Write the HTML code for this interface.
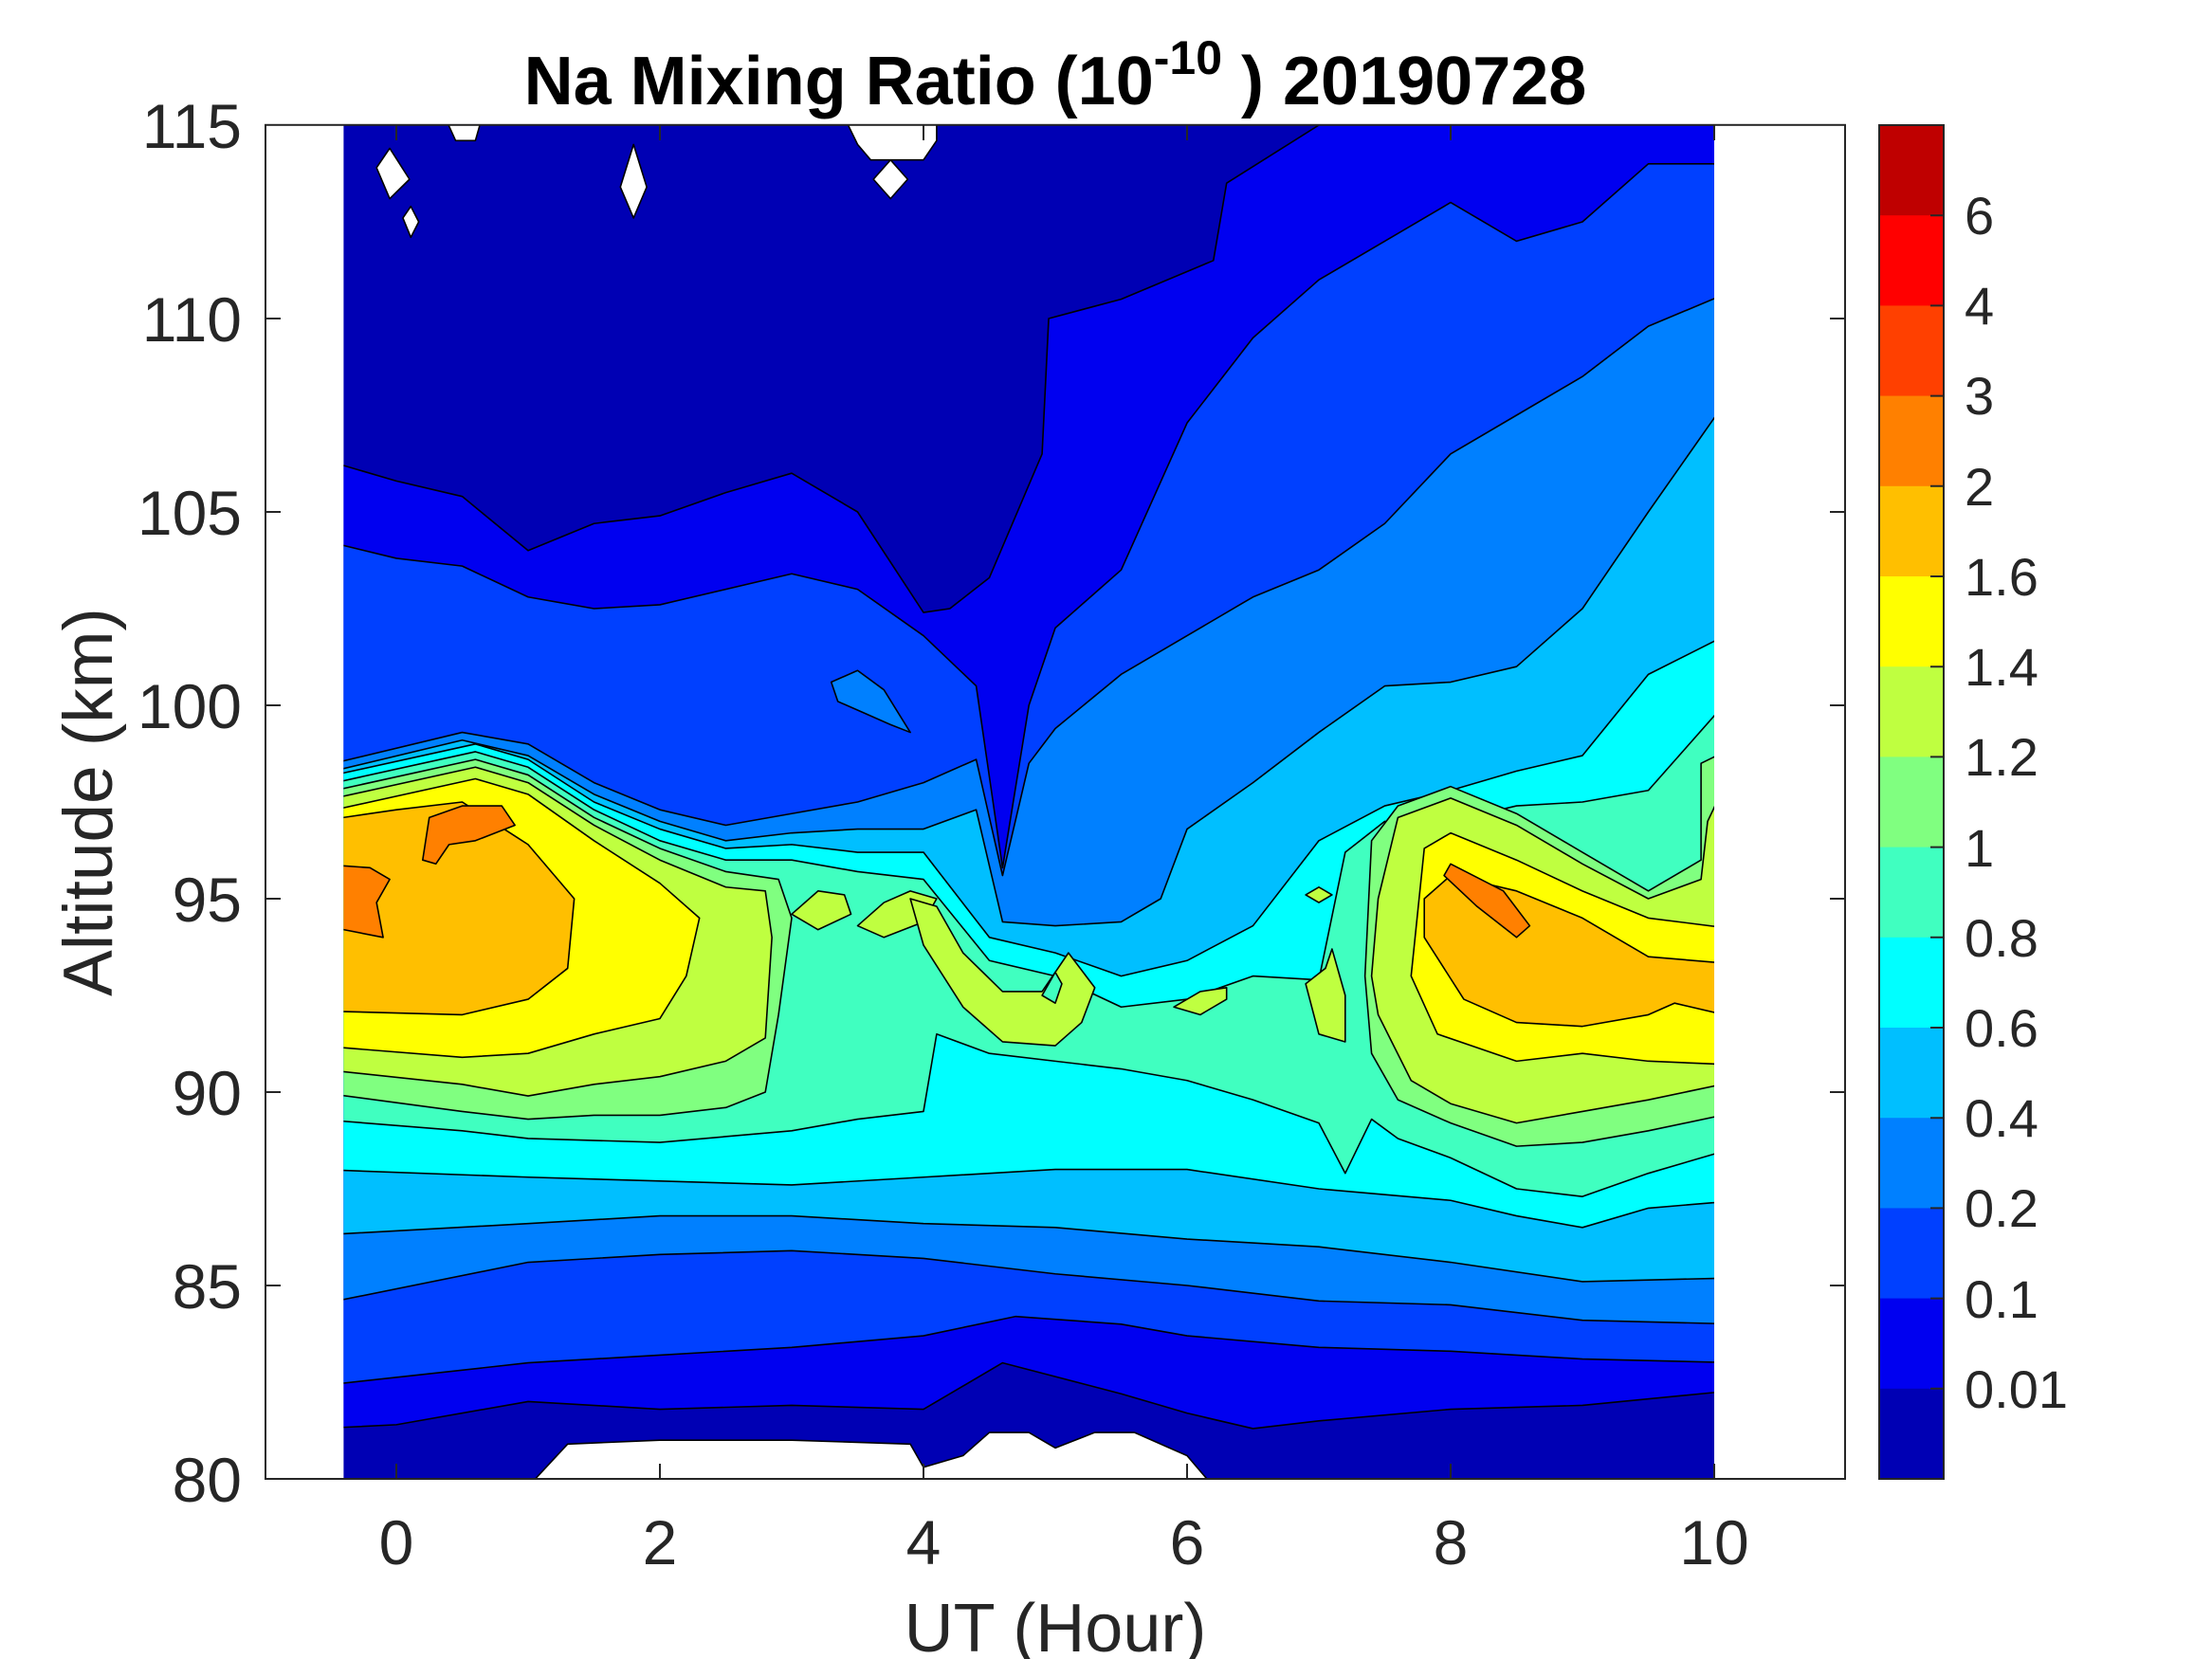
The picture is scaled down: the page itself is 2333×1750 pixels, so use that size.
<!DOCTYPE html>
<html><head><meta charset="utf-8"><style>
html,body{margin:0;padding:0;background:#fff}
svg{display:block}
text{font-family:"Liberation Sans",Arial,sans-serif;fill:#262626}
</style></head><body>
<svg width="2333" height="1750" viewBox="0 0 2333 1750" xmlns="http://www.w3.org/2000/svg">
<defs>
<clipPath id="dc"><rect x="362.4" y="131.8" width="1445.6" height="1428.2"/></clipPath>
</defs>
<g clip-path="url(#dc)">
<g transform="translate(418,4824) scale(139,-40.8)" stroke="#000" stroke-width="1.6" stroke-linejoin="round">
<rect x="-0.6" y="79" width="11" height="37" fill="#0000b4" stroke="none"/>
<!-- >=0.01 -->
<polygon vector-effect="non-scaling-stroke" fill="#0000f0" points="-0.6,81.3 0,81.4 1,82 2,81.8 3,81.9 4,81.8 4.6,83 5.5,82.2 6,81.7 6.5,81.3 7,81.5 8,81.8 9,81.9 10.2,82.3 10.2,116 7.0,116 7.0,115 6.3,113.5 6.2,111.5 5.5,110.5 4.95,110 4.9,106.5 4.5,103.3 4.2,102.5 4,102.4 3.5,105 3,106 2.5,105.5 2,104.9 1.5,104.7 1,104 0.5,105.4 0,105.8 -0.6,106.4"/>
<!-- >=0.1 -->
<polygon vector-effect="non-scaling-stroke" fill="#0040ff" points="-0.6,82.4 1,83 2,83.2 3,83.4 4,83.7 4.7,84.2 5.5,84 6,83.7 7,83.4 8,83.3 9,83.1 10.2,83 10.2,114 9.5,114 9,112.5 8.5,112 8,113 7.5,112 7,111 6.5,109.5 6,107.3 5.5,103.5 5,102 4.8,100 4.6,95.8 4.4,100.5 4,101.8 3.5,103 3,103.4 2,102.6 1.5,102.5 1,102.8 0.5,103.6 0,103.8 -0.6,104.3"/>
<!-- >=0.2 -->
<polygon vector-effect="non-scaling-stroke" fill="#0080ff" points="-0.6,84.5 1,85.6 2,85.8 3,85.9 4,85.7 5,85.3 6,85 7,84.6 8,84.5 9,84.1 10.2,84 10.2,110.8 9.5,109.8 9,108.5 8.5,107.5 8,106.5 7.5,104.7 7,103.5 6.5,102.8 6,101.8 5.5,100.8 5,99.4 4.8,98.5 4.6,95.6 4.4,98.6 4,98 3.5,97.5 3,97.2 2.5,96.9 2,97.3 1.5,98 1,99 0.5,99.3 -0.6,98.4"/>
<polygon vector-effect="non-scaling-stroke" fill="#0080ff" points="3.3,100.6 3.5,100.9 3.7,100.4 3.9,99.3 3.75,99.5 3.55,99.8 3.35,100.1"/>
<!-- >=0.4 -->
<polygon vector-effect="non-scaling-stroke" fill="#00bfff" points="-0.6,86.3 1,86.6 2,86.8 3,86.8 4,86.6 5,86.5 6,86.2 7,86 8,85.6 9,85.1 10.2,85.2 10.2,108.4 9.5,105 9,102.5 8.5,101 8,100.6 7.5,100.5 7,99.3 6.5,98 6,96.8 5.8,95 5.5,94.4 5,94.3 4.6,94.4 4.4,97.3 4,96.8 3.5,96.8 3,96.7 2.5,96.5 2,97 1.5,97.7 1,98.7 0.5,99.1 -0.6,98.2"/>
<!-- >=0.6 -->
<polygon vector-effect="non-scaling-stroke" fill="#00ffff" points="-0.6,88 1,87.8 2,87.7 3,87.6 4,87.8 5,88 6,88 7,87.5 8,87.2 8.5,86.8 9,86.5 9.5,87 10.2,87.2 10.2,102 9.5,100.8 9,98.7 8.5,98.3 8,97.8 7.5,97.4 7,96.5 6.5,94.3 6,93.4 5.5,93 5,93.6 4.5,94 4,96.2 3.5,96.2 3,96.4 2.5,96.3 2,96.8 1.5,97.5 1,98.6 0.6,99 -0.6,98.1"/>
<!-- >=0.8 -->
<polygon vector-effect="non-scaling-stroke" fill="#40ffc0" points="-0.6,89.3 0.5,89 1,88.8 2,88.7 3,89 3.5,89.3 4,89.5 4.1,91.5 4.5,91 5,90.8 5.5,90.6 6,90.3 6.5,89.8 7,89.2 7.2,87.9 7.4,89.3 7.6,88.8 8,88.3 8.5,87.5 9,87.3 9.5,87.9 10.2,88.6 10.2,100.5 9.5,97.8 9,97.5 8.5,97.4 8,97 7.5,97 7.2,96.2 7,92.9 6.5,93 6,92.4 5.5,92.2 5,93 4.5,93.4 4,95.5 3.5,95.7 3,96 2.5,96 2,96.5 1.5,97.3 1,98.4 0.6,98.8 -0.6,97.9"/>
<!-- left blob -->
<polygon vector-effect="non-scaling-stroke" fill="#80ff80" points="-0.6,90 0.5,89.5 1,89.3 1.5,89.4 2,89.4 2.5,89.6 2.8,90 2.9,92 3,94.5 2.9,95.5 2.5,95.7 2,96.3 1.5,97.1 1,98.2 0.6,98.6 -0.6,97.7"/>
<polygon vector-effect="non-scaling-stroke" fill="#bfff40" points="-0.6,90.6 0.5,90.2 1,89.9 1.5,90.2 2,90.4 2.5,90.8 2.8,91.4 2.85,94 2.8,95.2 2.5,95.3 2,96 1.5,96.9 1,98 0.6,98.4 -0.6,97.5"/>
<polygon vector-effect="non-scaling-stroke" fill="#ffff00" points="-0.6,91.2 0.5,90.9 1,91 1.5,91.5 2,91.9 2.2,93 2.3,94.5 2,95.4 1.5,96.5 1,97.7 0.6,98.1 -0.6,97.2"/>
<polygon vector-effect="non-scaling-stroke" fill="#ffbf00" points="-0.6,92.1 0.5,92 1,92.4 1.3,93.2 1.35,95 1,96.4 0.5,97.5 0,97.3 -0.6,97"/>
<polygon vector-effect="non-scaling-stroke" fill="#ff8000" points="0.2,96 0.25,97.1 0.5,97.4 0.8,97.4 0.9,96.9 0.6,96.5 0.4,96.4 0.3,95.9"/>
<polygon vector-effect="non-scaling-stroke" fill="#ff8000" points="-0.6,95.9 -0.2,95.8 -0.05,95.5 -0.15,94.9 -0.1,94 -0.4,94.2 -0.6,94.3"/>
<!-- middle blobs -->
<polygon vector-effect="non-scaling-stroke" fill="#bfff40" points="3.0,94.6 3.2,95.2 3.4,95.1 3.45,94.6 3.2,94.2"/>
<polygon vector-effect="non-scaling-stroke" fill="#bfff40" points="3.5,94.3 3.7,94.9 3.9,95.2 4.1,95 4.0,94.4 3.7,94.0"/>
<polygon vector-effect="non-scaling-stroke" fill="#bfff40" points="3.9,95.0 4.1,94.8 4.3,93.6 4.6,92.6 4.9,92.6 5.1,93.6 5.3,92.7 5.2,91.8 5.0,91.2 4.6,91.3 4.3,92.2 4.0,93.8"/>
<polygon vector-effect="non-scaling-stroke" fill="#40ffc0" points="4.9,92.5 5.0,93.1 5.05,92.8 5.0,92.3"/>
<polygon vector-effect="non-scaling-stroke" fill="#bfff40" points="5.9,92.2 6.1,92.6 6.3,92.7 6.3,92.4 6.1,92"/>
<polygon vector-effect="non-scaling-stroke" fill="#bfff40" points="6.9,92.8 7.0,91.5 7.2,91.3 7.2,92.5 7.1,93.7 7.05,93.2"/>
<polygon vector-effect="non-scaling-stroke" fill="#bfff40" points="6.9,95.1 7.0,95.3 7.1,95.1 7.0,94.9"/>
<!-- right blob -->
<polygon vector-effect="non-scaling-stroke" fill="#80ff80" points="7.35,93 7.4,91 7.6,89.8 8,89.2 8.5,88.6 9,88.7 9.5,89 10.2,89.5 10.2,99 9.9,98.5 9.9,96 9.5,95.2 9,96.2 8.5,97.2 8,97.9 7.6,97.4 7.4,96.5"/>
<polygon vector-effect="non-scaling-stroke" fill="#bfff40" points="7.4,93 7.45,92 7.7,90.3 8,89.7 8.5,89.2 9,89.5 9.5,89.8 10.2,90.3 10.2,98.8 9.95,97 9.9,95.5 9.5,95 9,95.9 8.5,96.9 8,97.6 7.6,97.1 7.45,95"/>
<polygon vector-effect="non-scaling-stroke" fill="#ffff00" points="7.7,93 7.9,91.5 8.5,90.8 9,91 9.5,90.8 10.2,90.7 10.2,94.2 9.5,94.5 9,95.2 8.5,96 8,96.7 7.8,96.3"/>
<polygon vector-effect="non-scaling-stroke" fill="#ffbf00" points="7.8,94 8.1,92.4 8.5,91.8 9,91.7 9.5,92 9.7,92.3 10.2,91.9 10.2,93.3 9.5,93.5 9,94.5 8.5,95.2 8,95.6 7.8,95"/>
<polygon vector-effect="non-scaling-stroke" fill="#ff8000" points="7.95,95.6 8.2,94.8 8.5,94.0 8.6,94.3 8.4,95.2 8.0,95.9"/>
<!-- white bottom -->
<polygon vector-effect="non-scaling-stroke" fill="#ffffff" points="1.0,79.8 1.3,80.9 2,81.0 3,81.0 3.9,80.9 4.0,80.3 4.3,80.6 4.5,81.2 4.8,81.2 5.0,80.8 5.3,81.2 5.6,81.2 6.0,80.6 6.2,79.8"/>
<!-- white top -->
<polygon vector-effect="non-scaling-stroke" fill="#ffffff" points="-0.15,113.9 -0.05,114.4 0.1,113.6 -0.05,113.1"/>
<polygon vector-effect="non-scaling-stroke" fill="#ffffff" points="0.05,112.6 0.11,112.9 0.17,112.5 0.11,112.1"/>
<polygon vector-effect="non-scaling-stroke" fill="#ffffff" points="0.37,115.2 0.45,114.6 0.6,114.6 0.65,115.2"/>
<polygon vector-effect="non-scaling-stroke" fill="#ffffff" points="1.7,113.4 1.8,114.5 1.9,113.4 1.8,112.6"/>
<polygon vector-effect="non-scaling-stroke" fill="#ffffff" points="3.4,115.2 3.5,114.5 3.6,114.1 4.0,114.1 4.1,114.6 4.1,115.2"/>
<polygon vector-effect="non-scaling-stroke" fill="#ffffff" points="3.62,113.6 3.75,114.1 3.88,113.6 3.75,113.1"/>
</g>
</g>
<!-- axes -->
<g stroke="#262626" stroke-width="2" fill="none">
<rect x="280" y="131.8" width="1666" height="1428.2"/>
<path d="M418,1560v-16M696,1560v-16M974,1560v-16M1252,1560v-16M1530,1560v-16M1808,1560v-16
M418,132v16M696,132v16M974,132v16M1252,132v16M1530,132v16M1808,132v16
M280,1560h16M280,1356h16M280,1152h16M280,948h16M280,744h16M280,540h16M280,336h16
M1946,1560h-16M1946,1356h-16M1946,1152h-16M1946,948h-16M1946,744h-16M1946,540h-16M1946,336h-16"/>
</g>
<g font-size="66" text-anchor="end">
<text x="255" y="1584">80</text>
<text x="255" y="1380">85</text>
<text x="255" y="1176">90</text>
<text x="255" y="972">95</text>
<text x="255" y="768">100</text>
<text x="255" y="564">105</text>
<text x="255" y="360">110</text>
<text x="255" y="156">115</text>
</g>
<g font-size="66" text-anchor="middle">
<text x="418" y="1650">0</text>
<text x="696" y="1650">2</text>
<text x="974" y="1650">4</text>
<text x="1252" y="1650">6</text>
<text x="1530" y="1650">8</text>
<text x="1808" y="1650">10</text>
</g>
<text x="1113" y="1742" font-size="72" text-anchor="middle">UT (Hour)</text>
<text transform="translate(118,846) rotate(-90)" font-size="73" text-anchor="middle">Altitude (km)</text>
<text x="1113" y="110" font-size="72" font-weight="bold" text-anchor="middle" style="fill:#000">Na Mixing Ratio (10<tspan font-size="50" dy="-32">-10</tspan><tspan dy="32"> ) 20190728</tspan></text>
<!-- colorbar -->
<g stroke="none">
<rect x="1982" y="132" width="68" height="96" fill="#bf0000"/>
<rect x="1982" y="227.2" width="68" height="96" fill="#ff0000"/>
<rect x="1982" y="322.4" width="68" height="96" fill="#ff4000"/>
<rect x="1982" y="417.6" width="68" height="96" fill="#ff8000"/>
<rect x="1982" y="512.8" width="68" height="96" fill="#ffbf00"/>
<rect x="1982" y="608" width="68" height="96" fill="#ffff00"/>
<rect x="1982" y="703.2" width="68" height="96" fill="#bfff40"/>
<rect x="1982" y="798.4" width="68" height="96" fill="#80ff80"/>
<rect x="1982" y="893.6" width="68" height="96" fill="#40ffc0"/>
<rect x="1982" y="988.8" width="68" height="96" fill="#00ffff"/>
<rect x="1982" y="1084" width="68" height="96" fill="#00bfff"/>
<rect x="1982" y="1179.2" width="68" height="96" fill="#0080ff"/>
<rect x="1982" y="1274.4" width="68" height="96" fill="#0040ff"/>
<rect x="1982" y="1369.6" width="68" height="96" fill="#0000f0"/>
<rect x="1982" y="1464.8" width="68" height="95.2" fill="#0000b4"/>
</g>
<rect x="1982" y="132" width="68" height="1428" fill="none" stroke="#262626" stroke-width="2"/>
<g stroke="#262626" stroke-width="2">
<path d="M2050,227.2h-14M2050,322.4h-14M2050,417.6h-14M2050,512.8h-14M2050,608h-14M2050,703.2h-14M2050,798.4h-14M2050,893.6h-14M2050,988.8h-14M2050,1084h-14M2050,1179.2h-14M2050,1274.4h-14M2050,1369.6h-14M2050,1464.8h-14"/>
</g>
<g font-size="56">
<text x="2072" y="247">6</text>
<text x="2072" y="342">4</text>
<text x="2072" y="437">3</text>
<text x="2072" y="533">2</text>
<text x="2072" y="628">1.6</text>
<text x="2072" y="723">1.4</text>
<text x="2072" y="818">1.2</text>
<text x="2072" y="914">1</text>
<text x="2072" y="1009">0.8</text>
<text x="2072" y="1104">0.6</text>
<text x="2072" y="1199">0.4</text>
<text x="2072" y="1294">0.2</text>
<text x="2072" y="1390">0.1</text>
<text x="2072" y="1485">0.01</text>
</g>
</svg>
</body></html>
